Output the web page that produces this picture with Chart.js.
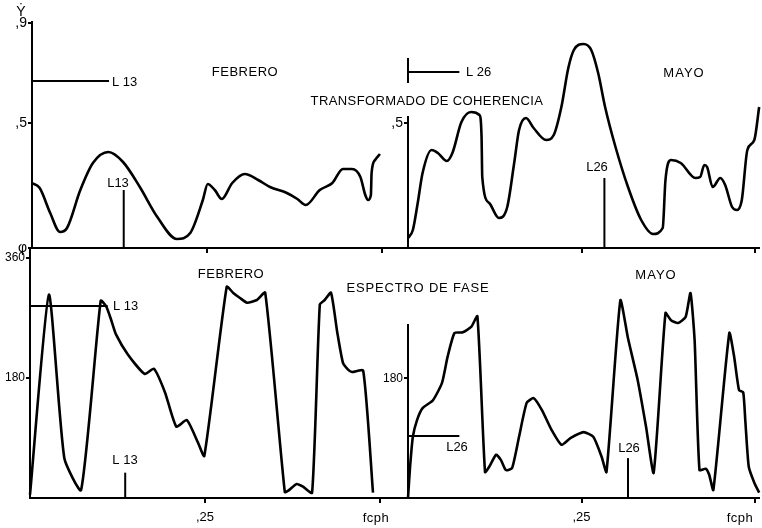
<!DOCTYPE html>
<html>
<head>
<meta charset="utf-8">
<script src="https://cdn.jsdelivr.net/npm/chart.js@4.4.1/dist/chart.umd.min.js"></script>
<style>
html, body { margin: 0; padding: 0; background: #fff; }
#wrap { position: relative; width: 762px; height: 528px; overflow: hidden; }
canvas { position: absolute; left: 0; top: 0; }
</style>
</head>
<body>
<div id="wrap">
  <canvas id="cohFeb" width="762" height="528"></canvas>
  <canvas id="cohMay" width="762" height="528"></canvas>
  <canvas id="phaseFeb" width="762" height="528"></canvas>
  <canvas id="phaseMay" width="762" height="528"></canvas>
</div>
<script>
// frequency ticks (fcph)
const freqTicks = [0.25, 0.5];
const freqLabels = [',25', ''];

// coherence - FEBRERO
const cohFebFreq = [0, 0.011, 0.026, 0.04, 0.05, 0.069, 0.087, 0.109, 0.13, 0.154,
  0.179, 0.207, 0.226, 0.244, 0.251, 0.261, 0.271, 0.286, 0.304, 0.323,
  0.34, 0.364, 0.379, 0.391, 0.411, 0.429, 0.444, 0.457, 0.469, 0.476,
  0.48, 0.484, 0.485, 0.49, 0.497];
const cohFebVal = [0.26, 0.24, 0.14, 0.064, 0.08, 0.232, 0.34, 0.384, 0.344, 0.244,
  0.124, 0.036, 0.06, 0.192, 0.256, 0.232, 0.196, 0.26, 0.296, 0.272,
  0.244, 0.22, 0.196, 0.172, 0.232, 0.26, 0.316, 0.316, 0.284, 0.212,
  0.192, 0.212, 0.30, 0.352, 0.376];

// coherence - MAYO
const cohMayFreq = [0, 0.007, 0.014, 0.021, 0.034, 0.043, 0.056, 0.064, 0.077, 0.091,
  0.103, 0.106, 0.107, 0.117, 0.131, 0.143, 0.153, 0.16, 0.17, 0.181,
  0.199, 0.21, 0.221, 0.231, 0.239, 0.253, 0.264, 0.274, 0.284, 0.299,
  0.317, 0.336, 0.353, 0.367, 0.371, 0.379, 0.393, 0.414, 0.421, 0.427,
  0.431, 0.439, 0.45, 0.457, 0.467, 0.474, 0.481, 0.489, 0.499, 0.506];
const cohMayVal = [0.04, 0.072, 0.18, 0.30, 0.392, 0.38, 0.348, 0.38, 0.504, 0.544,
  0.532, 0.444, 0.284, 0.18, 0.12, 0.164, 0.34, 0.472, 0.52, 0.48,
  0.432, 0.452, 0.564, 0.72, 0.792, 0.816, 0.792, 0.70, 0.564, 0.404,
  0.244, 0.112, 0.056, 0.08, 0.272, 0.352, 0.34, 0.28, 0.284, 0.332,
  0.324, 0.244, 0.28, 0.252, 0.164, 0.152, 0.192, 0.392, 0.432, 0.564];

// phase (degrees) - FEBRERO
const phaseFebFreq = [0, 0.027, 0.049, 0.073, 0.101, 0.109, 0.116, 0.123, 0.14, 0.164,
  0.177, 0.193, 0.209, 0.224, 0.24, 0.249, 0.281, 0.29, 0.3, 0.31,
  0.324, 0.336, 0.364, 0.369, 0.381, 0.39, 0.403, 0.414, 0.421, 0.43,
  0.439, 0.447, 0.454, 0.46, 0.476, 0.49];
const phaseFebVal = [5, 305, 60, 12, 296, 287, 267, 245, 215, 186,
  194, 158, 107, 117, 83, 63, 317, 308, 300, 293,
  297, 308, 9, 11, 21, 17, 8, 290, 297, 308,
  248, 203, 193, 189, 191, 8];

// phase (degrees) - MAYO
const phaseMayFreq = [0, 0.003, 0.007, 0.013, 0.021, 0.036, 0.049, 0.057, 0.067, 0.079,
  0.091, 0.1, 0.111, 0.117, 0.127, 0.134, 0.141, 0.15, 0.16, 0.171,
  0.181, 0.193, 0.207, 0.221, 0.234, 0.253, 0.267, 0.279, 0.286, 0.306,
  0.317, 0.331, 0.343, 0.354, 0.371, 0.379, 0.389, 0.4, 0.407, 0.413,
  0.42, 0.429, 0.434, 0.44, 0.463, 0.47, 0.477, 0.483, 0.486, 0.491,
  0.499, 0.506];
const phaseMayVal = [0, 47, 92, 117, 135, 147, 173, 212, 248, 249,
  257, 273, 39, 47, 65, 57, 42, 45, 92, 143,
  150, 132, 102, 80, 90, 99, 92, 62, 39, 297,
  240, 177, 107, 38, 278, 267, 263, 272, 308, 237,
  42, 44, 35, 12, 248, 212, 162, 159, 117, 47,
  23, 8];

// L13 / L26 reference marks [x, y] pairs
const cohFebL13H = [[0, 0.668], [0.11, 0.668]];
const cohFebL13V = [[0.131, 0], [0.131, 0.232]];
const cohMayL26Bar = [[0, 0.66], [0, 0.76]];
const cohMayL26H = [[0, 0.704], [0.074, 0.704]];
const cohMayL26V = [[0.283, 0], [0.283, 0.28]];
const phaseFebL13H = [[0, 288], [0.111, 288]];
const phaseFebL13V = [[0.136, 0], [0.136, 38]];
const phaseMayL26H = [[0, 93], [0.074, 93]];
const phaseMayL26V = [[0.317, 0], [0.317, 60]];

const FONT = '"Liberation Sans", Arial, sans-serif';

// free text on the figure
const notesPlugin = {
  id: 'notes',
  afterDraw(chart, args, opts) {
    const ctx = chart.ctx;
    ctx.save();
    ctx.fillStyle = '#000';
    ctx.textBaseline = 'middle';
    (opts.items || []).forEach(n => {
      ctx.font = n.font || ('13px ' + FONT);
      ctx.letterSpacing = n.ls || '0.5px';
      ctx.textAlign = n.align || 'center';
      ctx.fillText(n.t, n.x, n.y);
    });
    ctx.restore();
  }
};

function pts(xs, ys) {
  return xs.map((x, i) => ({ x: x, y: ys[i] }));
}

function pairs(p) {
  return p.map(a => ({ x: a[0], y: a[1] }));
}

function curve(data, smooth) {
  return {
    data: data,
    borderColor: '#000',
    borderWidth: 2.6,
    pointRadius: 0,
    fill: false,
    clip: false,
    tension: smooth ? 0.4 : 0.18,
    cubicInterpolationMode: smooth ? 'monotone' : 'default'
  };
}

function mark(p) {
  return {
    data: pairs(p),
    borderColor: '#000',
    borderWidth: 2,
    pointRadius: 0,
    fill: false,
    clip: false,
    tension: 0
  };
}

function panel(id, o) {
  return new Chart(document.getElementById(id), {
    type: 'line',
    data: { datasets: o.datasets },
    options: {
      responsive: false,
      animation: false,
      events: [],
      layout: { padding: o.pad },
      plugins: {
        legend: { display: false },
        tooltip: { enabled: false },
        notes: { items: o.notes }
      },
      scales: {
        x: {
          type: 'linear',
          min: 0,
          max: o.xMax,
          afterBuildTicks: s => { s.ticks = freqTicks.map(v => ({ value: v })); },
          afterFit: s => { s.height = o.xH; },
          grid: { drawOnChartArea: false, drawTicks: true, tickLength: 5, color: '#000', lineWidth: 2 },
          border: { display: true, color: '#000', width: 2 },
          ticks: {
            autoSkip: false,
            maxRotation: 0,
            padding: 7,
            color: '#000',
            font: { family: FONT, size: 13 },
            callback: (v, i) => o.xLabels ? freqLabels[i] : ''
          }
        },
        y: {
          type: 'linear',
          min: 0,
          max: o.yMax,
          afterBuildTicks: s => { s.ticks = o.yTicks.map(v => ({ value: v })); },
          afterFit: s => { s.width = o.yW; },
          grid: { drawOnChartArea: false, drawTicks: true, tickLength: 4, color: '#000', lineWidth: 2 },
          border: { display: true, color: '#000', width: 2 },
          ticks: {
            autoSkip: false,
            padding: 1,
            color: '#000',
            font: { family: FONT, size: o.yFont || 14 },
            callback: (v, i) => o.yLabels[i]
          }
        }
      }
    },
    plugins: [notesPlugin]
  });
}

// TRANSFORMADO DE COHERENCIA - FEBRERO
panel('cohFeb', {
  pad: { left: 0, right: 354, top: 22, bottom: 0 },
  xMax: 0.537, xH: 280, xLabels: false,
  yMax: 0.904, yW: 32,
  yTicks: [0, 0.5, 0.9], yLabels: ['\u03C6', ',5', ',9'],
  datasets: [
    curve(pts(cohFebFreq, cohFebVal), true),
    mark(cohFebL13H),
    mark(cohFebL13V)
  ],
  notes: [
    { t: '\u1E8E', x: 21, y: 12, font: '14px ' + FONT, ls: '0px' },
    { t: 'FEBRERO', x: 245, y: 72 },
    { t: 'L 13', x: 112, y: 82, align: 'left', ls: '0px' },
    { t: 'L13', x: 118, y: 183, ls: '0px' },
    { t: 'TRANSFORMADO DE COHERENCIA', x: 427, y: 101, ls: '0.4px' }
  ]
});

// TRANSFORMADO DE COHERENCIA - MAYO
panel('cohMay', {
  pad: { left: 378, right: 0, top: 117, bottom: 0 },
  xMax: 0.506, xH: 280, xLabels: false,
  yMax: 0.524, yW: 30,
  yTicks: [0.5], yLabels: [',5'],
  datasets: [
    curve(pts(cohMayFreq, cohMayVal), true),
    mark(cohMayL26Bar),
    mark(cohMayL26H),
    mark(cohMayL26V)
  ],
  notes: [
    { t: 'L 26', x: 466, y: 72, align: 'left', ls: '0px' },
    { t: 'MAYO', x: 684, y: 73, ls: '1px' },
    { t: 'L26', x: 597, y: 167, ls: '0px' }
  ]
});

// ESPECTRO DE FASE - FEBRERO
panel('phaseFeb', {
  pad: { left: 0, right: 354, top: 248, bottom: 0 },
  xMax: 0.54, xH: 30, xLabels: true,
  yMax: 375, yW: 30, yFont: 12,
  yTicks: [180, 360], yLabels: ['180', '360'],
  datasets: [
    curve(pts(phaseFebFreq, phaseFebVal), false),
    mark(phaseFebL13H),
    mark(phaseFebL13V)
  ],
  notes: [
    { t: 'FEBRERO', x: 231, y: 274 },
    { t: 'ESPECTRO DE FASE', x: 418, y: 288, ls: '0.8px' },
    { t: 'L 13', x: 113, y: 306, align: 'left', ls: '0px' },
    { t: 'L 13', x: 125, y: 460, ls: '0px' },
    { t: 'fcph', x: 376, y: 518, ls: '0.5px' }
  ]
});

// ESPECTRO DE FASE - MAYO
panel('phaseMay', {
  pad: { left: 378, right: 0, top: 325, bottom: 0 },
  xMax: 0.506, xH: 30, xLabels: true,
  yMax: 260, yW: 30, yFont: 12,
  yTicks: [180], yLabels: ['180'],
  datasets: [
    curve(pts(phaseMayFreq, phaseMayVal), false),
    mark(phaseMayL26H),
    mark(phaseMayL26V)
  ],
  notes: [
    { t: 'MAYO', x: 656, y: 275, ls: '1px' },
    { t: 'L26', x: 457, y: 447, ls: '0px' },
    { t: 'L26', x: 629, y: 448, ls: '0px' },
    { t: 'fcph', x: 740, y: 518, ls: '0.5px' }
  ]
});
</script>
</body>
</html>
